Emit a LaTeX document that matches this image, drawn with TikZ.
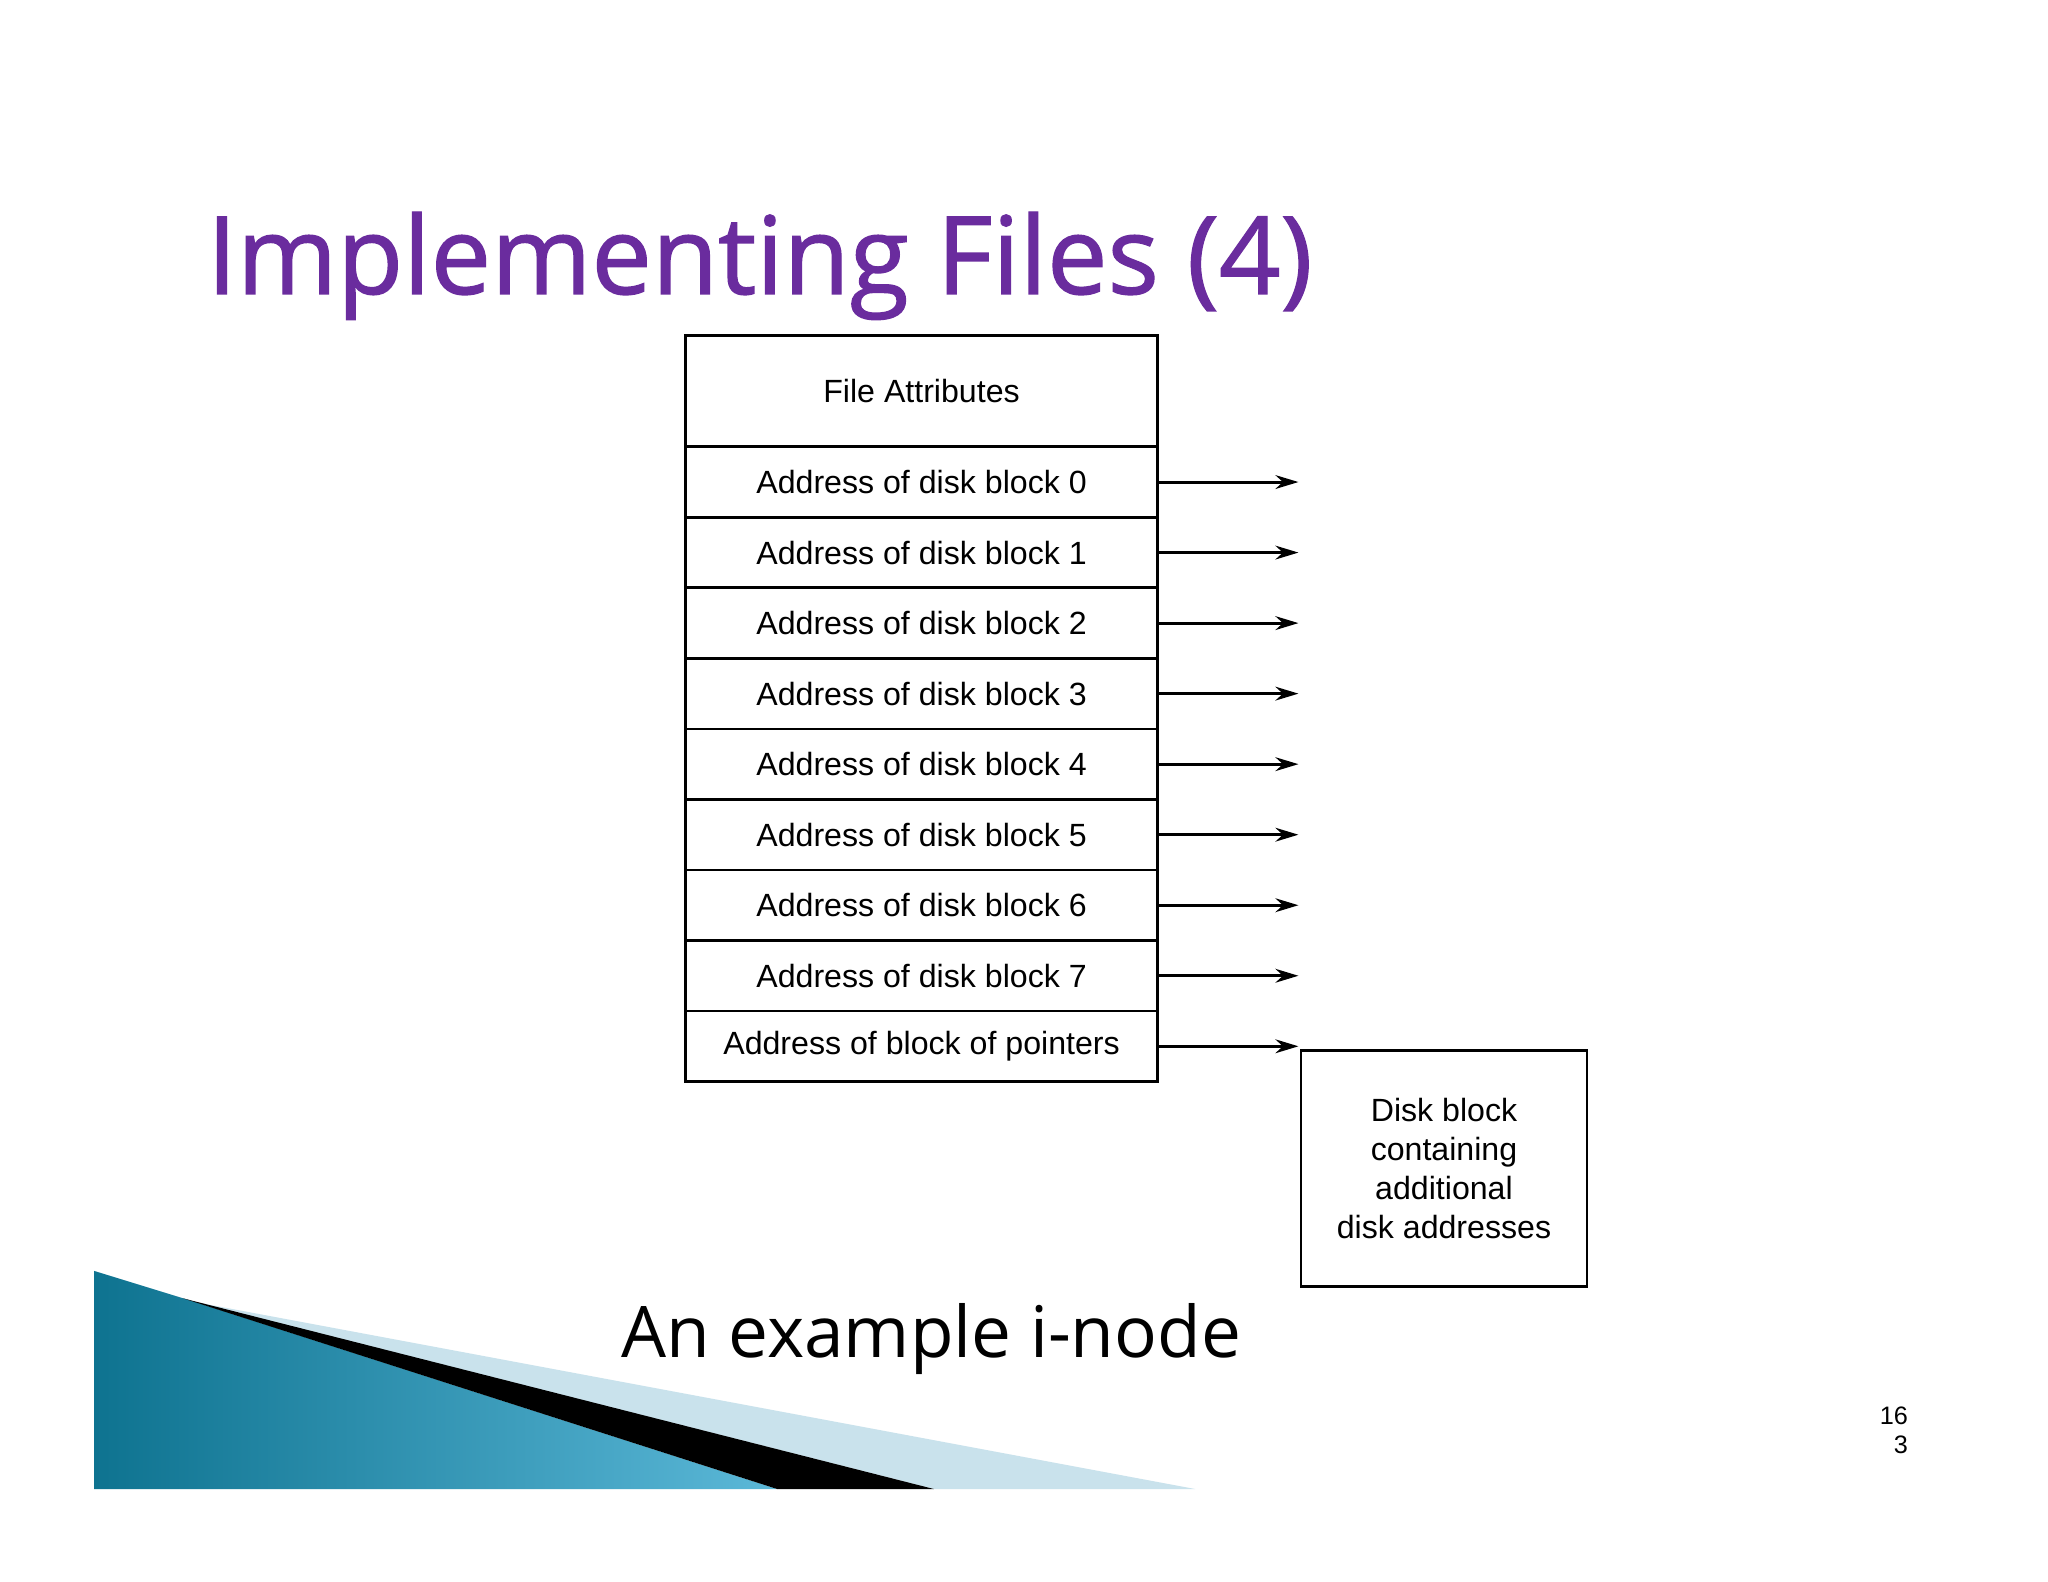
\documentclass[tikz,border=0pt]{standalone}
\usepackage{fontspec}
\setmainfont{Liberation Sans}
\newfontfamily\titlefont{Open Sans}
\newfontfamily\headfont[FakeBold=1.2]{Open Sans}
\usetikzlibrary{arrows.meta}
\definecolor{ttl}{HTML}{6A2C9E}
\definecolor{tealA}{HTML}{0E7390}
\definecolor{tealB}{HTML}{5BB8D8}
\definecolor{paleb}{HTML}{C9E2EC}
\tikzset{cell/.style={draw,line width=1.2pt,minimum width=361*0.02cm,anchor=north west,inner sep=0pt,font=\fontsize{14}{16}\selectfont},
ptr/.style={-{Stealth[length=10pt,width=6pt]},line width=1.3pt}}
\begin{document}
\begin{tikzpicture}[x=0.02cm,y=-0.02cm]
\useasboundingbox[fill=white] (0,0) rectangle (1568,1211);
% decoration
\shade[left color=tealA,right color=tealB] (72,973) -- (150,997) -- (595,1140) -- (72,1140) -- cycle;
\fill[paleb] (150,997) -- (915,1140) -- (715,1140) -- cycle;
\fill[black] (140,994) -- (715,1140) -- (595,1140) -- cycle;
% title
\node[anchor=base west,text=ttl,font=\headfont\fontsize{47}{50}\selectfont,inner sep=0pt] (title) at (158,225) {Implementing Files (4)};
% table
\node[cell,minimum height=85*0.02cm] (r0) at (524,256) {File Attributes};
\foreach \i/\t [count=\k from 1] in {0/Address of disk block 0,1/Address of disk block 1,2/Address of disk block 2,3/Address of disk block 3,4/Address of disk block 4,5/Address of disk block 5,6/Address of disk block 6,7/Address of disk block 7,8/Address of block of pointers}{
  \node[cell,minimum height=54*0.02cm] (r\k) at (524,{341+54*\i}) {\t};
  \draw[ptr] (r\k.east) -- +(107,0);
}
\node[draw,line width=1.2pt,minimum width=219*0.02cm,minimum height=181*0.02cm,anchor=north west,align=center,font=\fontsize{14}{17}\selectfont] (disk) at (995,803) {Disk block\\containing\\additional\\disk addresses};
\node[font=\titlefont\fontsize{31}{34}\selectfont] (cap) at (713,1025) {An example i-node};
\node[font=\fontsize{11}{13}\selectfont,align=right] (pg) at (1450,1095) {16\\3};
\end{tikzpicture}
\end{document}
